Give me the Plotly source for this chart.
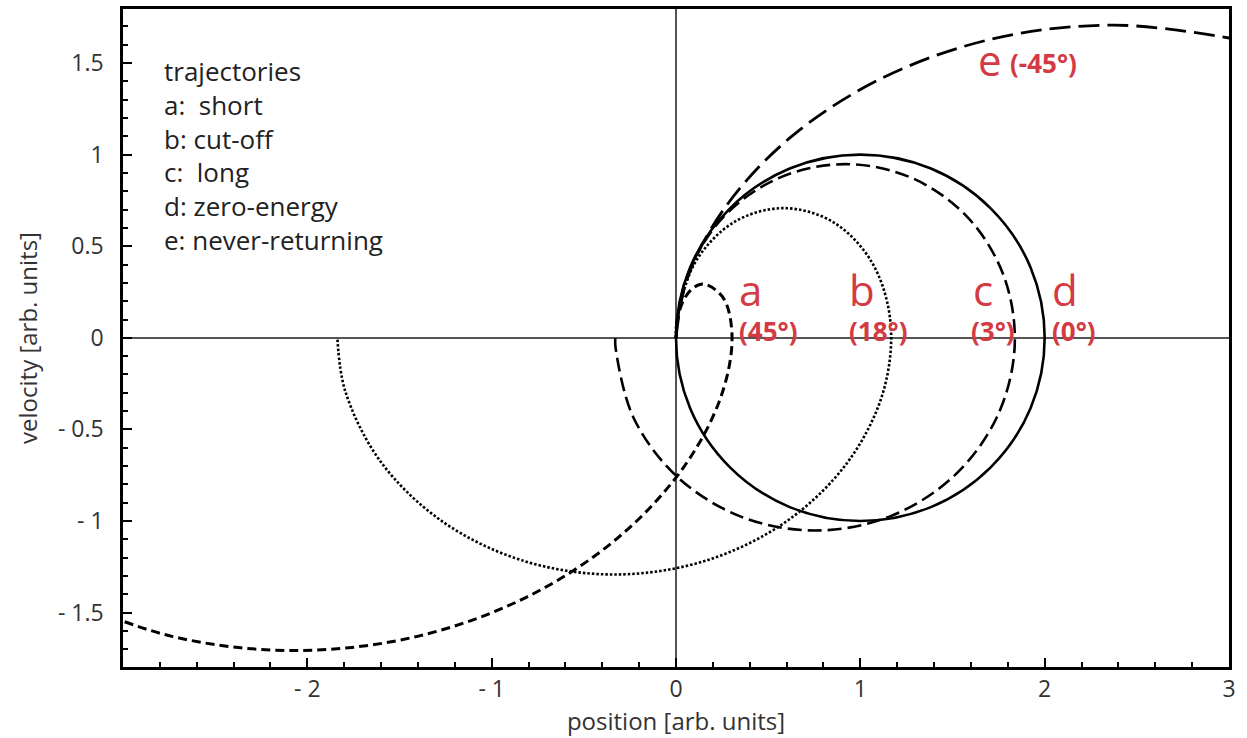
import plotly.graph_objects as go

# Phase-space trajectories of a field-driven electron: position vs velocity
# a: short (45 deg)
a_pos = [0.0, 0.013, 0.047, 0.096, 0.152, 0.257, 0.304, 0.243, 0.041, -0.313,
         -0.807, -1.409, -2.070, -2.730, -3.332]
a_vel = [0.0, 0.124, 0.217, 0.274, 0.293, 0.217, 0.0, -0.324, -0.707, -1.090,
         -1.414, -1.631, -1.707, -1.631, -1.414]

# b: cut-off
b_pos = [0.0, 0.004, 0.106, 0.316, 0.584, 0.852, 1.061, 1.163, 1.125, 0.934,
         0.602, 0.163, -0.335, -0.832, -1.271, -1.603, -1.794, -1.837]
b_vel = [0.0, 0.090, 0.415, 0.632, 0.708, 0.632, 0.415, 0.090, -0.292, -0.675,
         -1.000, -1.216, -1.292, -1.216, -1.000, -0.675, -0.292, 0.0]

# c: long
c_pos = [0.0, 0.057, 0.253, 0.557, 0.919, 1.281, 1.585, 1.781, 1.837, 1.740,
         1.503, 1.158, 0.755, 0.352, 0.007, -0.231, -0.328, -0.329]
c_vel = [0.0, 0.330, 0.655, 0.872, 0.948, 0.872, 0.655, 0.330, -0.052, -0.435,
         -0.759, -0.976, -1.052, -0.976, -0.759, -0.435, -0.052, 0.0]

# d: zero-energy
d_pos = [0.0, 0.076, 0.293, 0.617, 1.0, 1.383, 1.707, 1.924, 2.0, 1.924,
         1.707, 1.383, 1.0, 0.617, 0.293, 0.076, 0.0]
d_vel = [0.0, 0.383, 0.707, 0.924, 1.0, 0.924, 0.707, 0.383, 0.0, -0.383,
         -0.707, -0.924, -1.0, -0.924, -0.707, -0.383, 0.0]

# e: never-returning
e_pos = [0.0, 0.061, 0.263, 0.616, 1.111, 1.713, 2.373, 3.034]
e_vel = [0.0, 0.324, 0.707, 1.090, 1.414, 1.631, 1.707, 1.631]

series = [
    ("a", a_pos, a_vel, 3.0, "9px,5px"),
    ("b", b_pos, b_vel, 2.6, "2.5px,2px"),
    ("c", c_pos, c_vel, 2.6, "14px,6px"),
    ("d", d_pos, d_vel, 2.6, "solid"),
    ("e", e_pos, e_vel, 2.8, "21px,8px"),
]

# curve letters and birth phases
curve_letters = ["a", "b", "c", "d", "e"]
curve_phases = ["(45°)", "(18°)", "(3°)", "(0°)", "(-45°)"]
letter_x = [0.33, 0.925, 1.60, 2.03, 1.63]
letter_y = [0.265, 0.265, 0.265, 0.265, 1.52]
phase_x = [0.33, 0.925, 1.59, 2.03, 1.80]
phase_y = [0.035, 0.035, 0.035, 0.035, 1.50]

legend_lines = ["trajectories", "a:&nbsp; short", "b: cut-off", "c:&nbsp; long",
                "d: zero-energy", "e: never-returning"]

X_RANGE = [-3, 3]
Y_RANGE = [-1.797, 1.795]
x_ticks = [-2, -1, 0, 1, 2, 3]
x_tick_text = ["- 2", "- 1", "0", "1", "2", "3"]
x_minor = [-2.8, -2.6, -2.4, -2.2, -1.8, -1.6, -1.4, -1.2, -0.8, -0.6, -0.4, -0.2,
           0.2, 0.4, 0.6, 0.8, 1.2, 1.4, 1.6, 1.8, 2.2, 2.4, 2.6, 2.8]
y_ticks = [-1.5, -1, -0.5, 0, 0.5, 1, 1.5]
y_tick_text = ["- 1.5", "- 1", "- 0.5", "0", "0.5", "1", "1.5"]
y_minor = [-1.7, -1.6, -1.4, -1.3, -1.2, -1.1, -0.9, -0.8, -0.7, -0.6, -0.4, -0.3,
           -0.2, -0.1, 0.1, 0.2, 0.3, 0.4, 0.6, 0.7, 0.8, 0.9, 1.1, 1.2, 1.3, 1.4,
           1.6, 1.7]

RED = "#d33a44"
FONT = "Open Sans"

fig = go.Figure()
for name, xs, ys, w, dash in series:
    fig.add_trace(go.Scatter(
        x=xs, y=ys, mode="lines", name=name,
        line=dict(color="black", width=w, dash=dash, shape="spline", smoothing=1.0),
        showlegend=False, hoverinfo="skip",
    ))

annotations = []
for lt, lx, ly in zip(curve_letters, letter_x, letter_y):
    annotations.append(dict(x=lx, y=ly, xref="x", yref="y", text=lt, showarrow=False,
                            xanchor="left", yanchor="middle",
                            font=dict(family=FONT, size=42, color=RED)))
for pt, px, py in zip(curve_phases, phase_x, phase_y):
    annotations.append(dict(x=px, y=py, xref="x", yref="y", text="<b>%s</b>" % pt,
                            showarrow=False, xanchor="left", yanchor="middle",
                            font=dict(family=FONT, size=26, color=RED)))
annotations.append(dict(x=-2.79, y=1.565, xref="x", yref="y",
                        text="<br>".join(legend_lines), showarrow=False,
                        xanchor="left", yanchor="top", align="left",
                        font=dict(family=FONT, size=26, color="#222")))

tick_style = dict(
    tickmode="array", ticks="inside", ticklen=9, tickwidth=2, tickcolor="black",
    showgrid=False,
)
minor_style = dict(tickmode="array", ticks="inside", ticklen=5, tickwidth=1.5,
                   tickcolor="black", showgrid=False)

fig.update_layout(
    width=1247, height=738,
    margin=dict(l=123, r=18, t=6, b=71),
    paper_bgcolor="white", plot_bgcolor="white",
    annotations=annotations,
    xaxis=dict(range=X_RANGE, tickvals=x_ticks, ticktext=x_tick_text,
               minor=dict(tickvals=x_minor, **minor_style),
               showline=True, linecolor="black", linewidth=2.5, mirror=True,
               zeroline=True, zerolinecolor="#555", zerolinewidth=2,
               tickfont=dict(family=FONT, size=23, color="#333"),
               title=dict(text="position [arb. units]", standoff=4,
                          font=dict(family=FONT, size=24, color="#333")),
               **tick_style),
    yaxis=dict(range=Y_RANGE, tickvals=y_ticks, ticktext=y_tick_text,
               minor=dict(tickvals=y_minor, **minor_style),
               showline=True, linecolor="black", linewidth=2.5, mirror=True,
               zeroline=True, zerolinecolor="#555", zerolinewidth=2,
               tickfont=dict(family=FONT, size=23, color="#333"),
               title=dict(text="velocity [arb. units]", standoff=14,
                          font=dict(family=FONT, size=24, color="#333")),
               ticklabelstandoff=12,
               **tick_style),
    # companion axes carrying the tick marks on the top and right edges
    xaxis2=dict(range=X_RANGE, overlaying="x", side="top", anchor="y",
                tickvals=x_ticks, showticklabels=False, zeroline=False,
                minor=dict(tickvals=x_minor, **minor_style), **tick_style),
    yaxis2=dict(range=Y_RANGE, overlaying="y", side="right", anchor="x",
                tickvals=y_ticks, showticklabels=False, zeroline=False,
                minor=dict(tickvals=y_minor, **minor_style), **tick_style),
)

fig.write_html("out.html")
